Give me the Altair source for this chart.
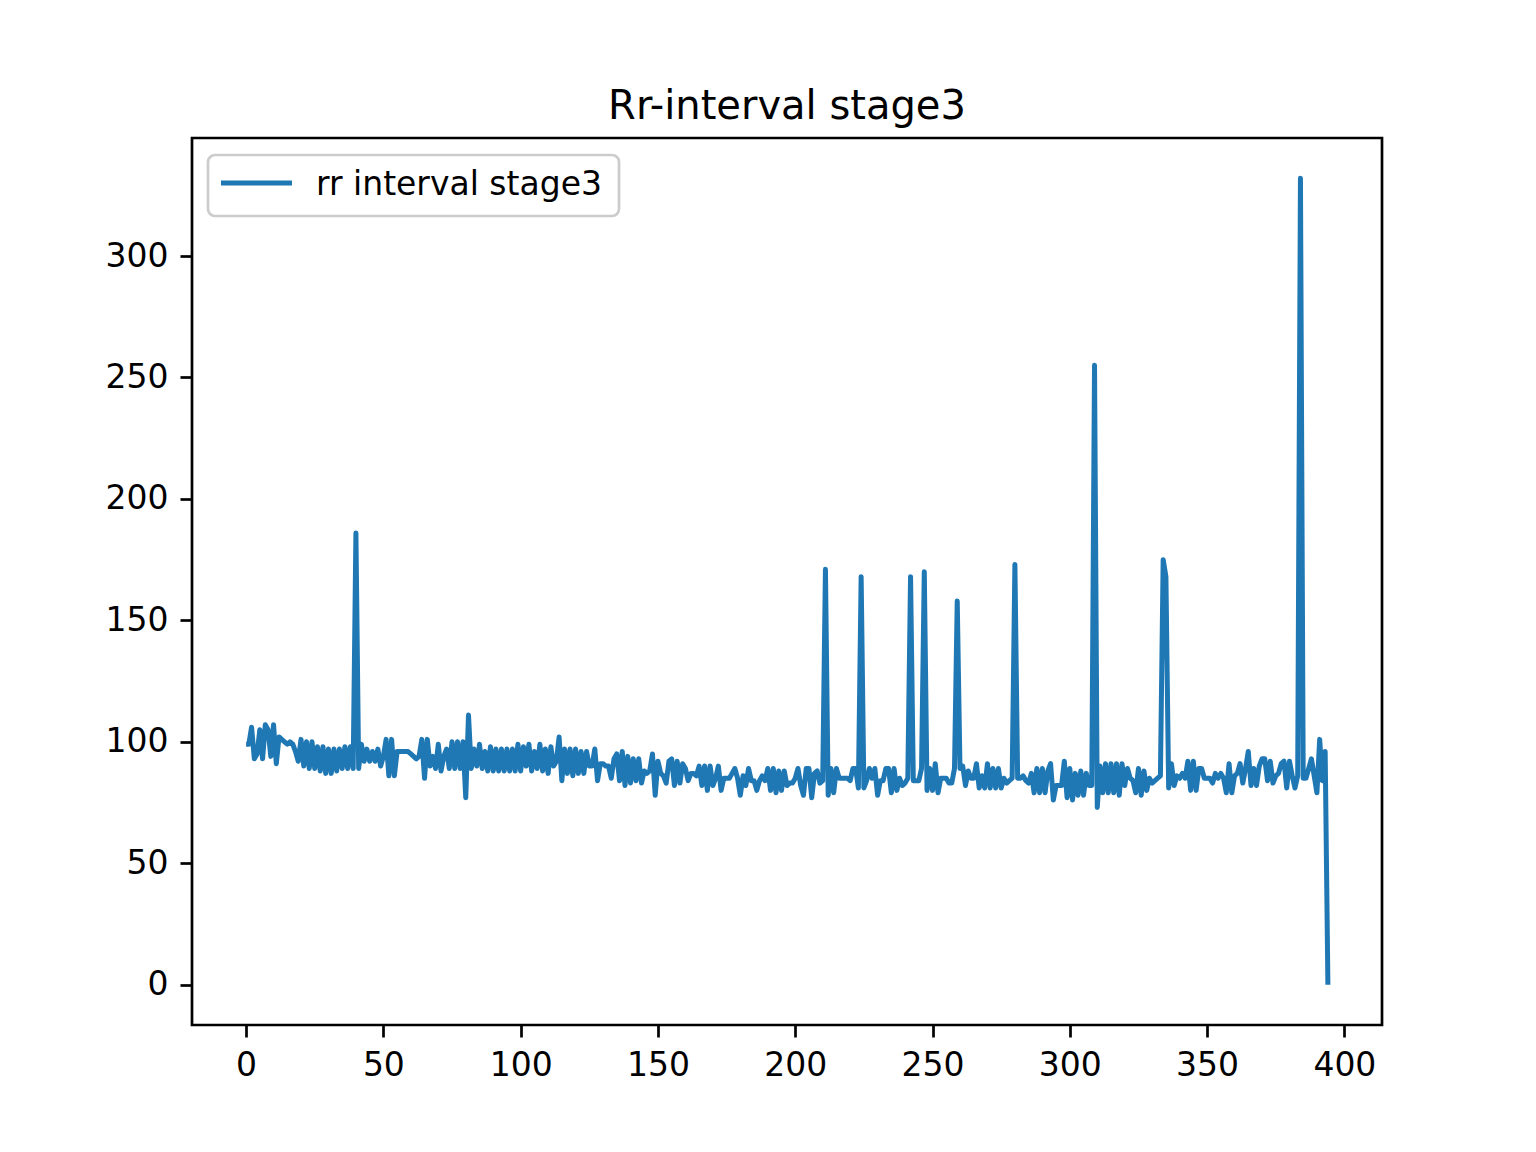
"""
RR interval (stage3) line chart, matplotlib look, drawn with Altair.
"""

import altair as alt
import pandas as pd

alt.data_transformers.disable_max_rows()


# --- 1. data ------------------------------------------------------------
# rr interval values, index 0..394 (split in blocks of 100 to keep it readable)
rr_000_099 = [
    99, 99, 106, 93, 95, 105, 93, 107, 105, 94,
    107, 91, 102, 101, 100, 99, 100, 99, 96, 92,
    101, 90, 100, 89, 100, 89, 98, 88, 98, 87,
    97, 87, 97, 88, 97, 89, 98, 89, 98, 89,
    186, 89, 99, 92, 97, 92, 96, 92, 97, 90,
    94, 101, 86, 101, 86, 96, 96, 96, 96, 96,
    95, 94, 93, 94, 101, 85, 101, 90, 94, 89,
    99, 88, 94, 97, 89, 100, 89, 100, 89, 100,
    77, 111, 89, 97, 90, 99, 89, 96, 88, 98,
    88, 97, 88, 97, 88, 97, 88, 97, 88, 99,
]
rr_100_199 = [
    88, 98, 90, 99, 88, 96, 89, 99, 88, 97,
    87, 98, 90, 92, 102, 84, 97, 87, 97, 86,
    97, 87, 96, 87, 96, 90, 90, 97, 84, 91,
    91, 90, 90, 85, 93, 95, 84, 96, 82, 94,
    83, 93, 84, 93, 83, 88, 87, 88, 95, 78,
    92, 87, 86, 83, 92, 93, 82, 92, 83, 91,
    89, 84, 87, 87, 86, 90, 82, 90, 80, 90,
    82, 85, 90, 80, 85, 85, 85, 87, 89, 85,
    78, 86, 82, 89, 84, 84, 80, 84, 86, 84,
    89, 80, 89, 79, 88, 80, 88, 82, 83, 83,
]
rr_200_299 = [
    85, 89, 82, 78, 89, 89, 77, 87, 88, 83,
    84, 171, 78, 89, 79, 89, 85, 85, 85, 85,
    84, 89, 89, 81, 168, 81, 84, 89, 85, 89,
    78, 84, 84, 89, 89, 79, 89, 80, 85, 82,
    83, 85, 168, 84, 84, 84, 89, 170, 80, 89,
    80, 91, 79, 85, 85, 85, 83, 83, 89, 158,
    89, 90, 82, 88, 85, 85, 91, 81, 86, 81,
    91, 81, 89, 81, 89, 81, 85, 83, 84, 85,
    173, 85, 85, 86, 84, 83, 87, 79, 89, 79,
    89, 79, 88, 91, 76, 82, 82, 82, 92, 77,
]
rr_300_394 = [
    89, 76, 87, 78, 88, 78, 87, 82, 82, 255,
    73, 90, 79, 91, 79, 91, 79, 91, 78, 91,
    82, 89, 85, 84, 79, 89, 78, 88, 80, 85,
    83, 84, 85, 86, 175, 168, 81, 91, 82, 86,
    85, 87, 85, 92, 80, 92, 80, 89, 89, 85,
    85, 85, 83, 87, 85, 87, 85, 79, 91, 79,
    86, 87, 91, 83, 89, 96, 82, 89, 82, 90,
    93, 93, 84, 92, 83, 86, 87, 91, 92, 81,
    92, 86, 81, 86, 332, 85, 85, 89, 93, 86,
    79, 101, 84, 96, 0,
]
rr_values = rr_000_099 + rr_100_199 + rr_200_299 + rr_300_394

series_name = "rr interval stage3"
chart_title = "Rr-interval stage3"
x_ticks = [0, 50, 100, 150, 200, 250, 300, 350, 400]
y_ticks = [0, 50, 100, 150, 200, 250, 300]

df = pd.DataFrame(
    {
        "idx": list(range(len(rr_values))),
        "rr": rr_values,
    }
)
legend_df = pd.DataFrame({"label": [series_name]})

# matplotlib-like 5% margins around the data range
x_lo, x_hi = 0, len(rr_values) - 1
y_lo, y_hi = min(rr_values), max(rr_values)
x_pad = (x_hi - x_lo) * 0.05
y_pad = (y_hi - y_lo) * 0.05


# --- 2. layers --------------------------------------------------------------
FONT = "DejaVu Sans"
LINE_COLOR = "#1f77b4"

line = (
    alt.Chart(df)
    .mark_line(color=LINE_COLOR, strokeWidth=5, strokeJoin="round")
    .encode(
        x=alt.X(
            "idx:Q",
            title=None,
            scale=alt.Scale(domain=[x_lo - x_pad, x_hi + x_pad], nice=False, zero=False),
            axis=alt.Axis(values=x_ticks, format="d"),
        ),
        y=alt.Y(
            "rr:Q",
            title=None,
            scale=alt.Scale(domain=[y_lo - y_pad, y_hi + y_pad], nice=False, zero=False),
            axis=alt.Axis(values=y_ticks, format="d"),
        ),
    )
)

# legend box drawn like matplotlib's (upper left, rounded frame)
legend_box = (
    alt.Chart(legend_df)
    .mark_rect(
        cornerRadius=7,
        fill="white",
        fillOpacity=0.8,
        stroke="#cccccc",
        strokeWidth=2.7,
    )
    .encode(
        x=alt.value(16),
        x2=alt.value(427),
        y=alt.value(17),
        y2=alt.value(78),
    )
)

legend_line = (
    alt.Chart(legend_df)
    .mark_rule(color=LINE_COLOR, strokeWidth=5)
    .encode(
        x=alt.value(29),
        x2=alt.value(100),
        y=alt.value(45),
    )
)

legend_text = (
    alt.Chart(legend_df)
    .mark_text(
        align="left",
        baseline="alphabetic",
        font=FONT,
        fontSize=33,
        color="black",
    )
    .encode(
        x=alt.value(124),
        y=alt.value(57),
        text="label:N",
    )
)


# --- 3. layout / styling --------------------------------------------------
chart = (
    alt.layer(line, legend_box, legend_line, legend_text)
    .properties(
        width=1190,
        height=887,
        title=alt.TitleParams(
            chart_title,
            font=FONT,
            fontSize=40,
            fontWeight="normal",
            color="black",
            frame="group",
            offset=20,
            dy=41,
            baseline="alphabetic",
            anchor="middle",
        ),
        autosize=alt.AutoSizeParams(type="none"),
        padding={"left": 184, "top": 130, "right": 146, "bottom": 119},
    )
    .configure_view(stroke="black", strokeWidth=2.7)
    .configure_axis(
        grid=False,
        domain=False,
        ticks=True,
        tickColor="black",
        tickWidth=2.7,
        tickSize=12,
        labelPadding=12,
        labelFont=FONT,
        labelFontSize=33,
        labelColor="black",
    )
)

if __name__ == "__main__":
    chart.save("out.html", embed_options={"renderer": "svg", "actions": False})
